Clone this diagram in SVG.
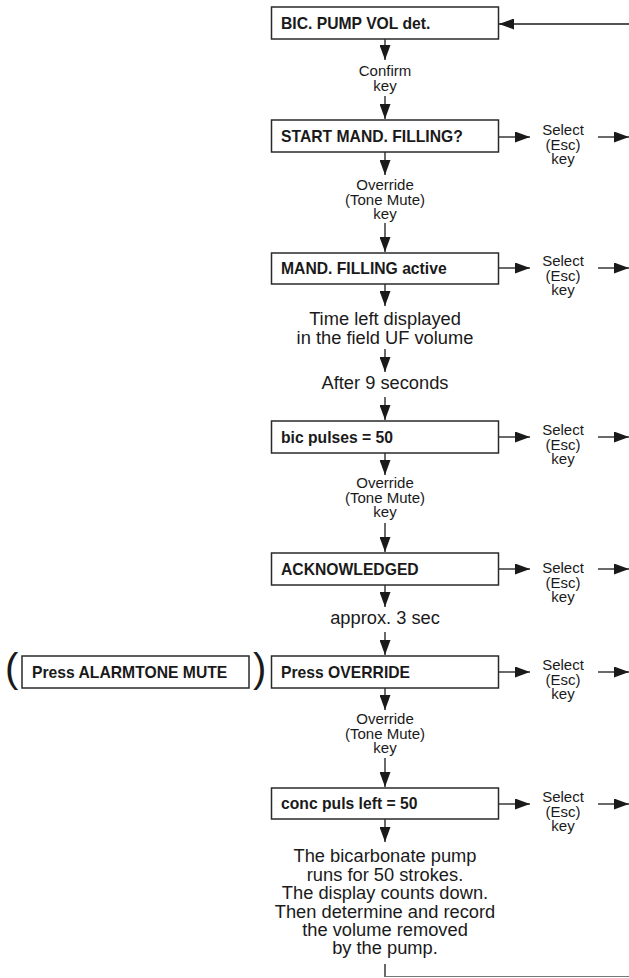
<svg xmlns="http://www.w3.org/2000/svg" width="629" height="978" viewBox="0 0 629 978">
<defs>
<marker id="ah" viewBox="0 0 15 11" refX="15" refY="5.5" markerWidth="15" markerHeight="11" markerUnits="userSpaceOnUse" orient="auto"><path d="M0,0 L15,5.5 L0,11 z" fill="#1a1a1a"/></marker>
<style>
.box{fill:#fff;stroke:#2a2a2a;stroke-width:1.5}
.bt{font-family:"Liberation Sans",Arial,sans-serif;font-weight:bold;font-size:15.7px;fill:#1a1a1a}
.lb{font-family:"Liberation Sans",Arial,sans-serif;font-size:15px;fill:#1a1a1a;text-anchor:middle}
.bg{font-family:"Liberation Sans",Arial,sans-serif;font-size:18.3px;fill:#1a1a1a;text-anchor:middle}
.par{font-family:"Liberation Sans",Arial,sans-serif;font-size:40px;fill:#1a1a1a}
.c line{stroke:#1a1a1a;stroke-width:1.3;fill:none}
.c line.a{marker-end:url(#ah)}
</style>
</defs>
<rect width="629" height="978" fill="#fff"/>
<g class="c" id="connectors">
<line class="a" x1="629" y1="24" x2="499" y2="24"/>
<line class="a" x1="385" y1="39" x2="385" y2="60"/>
<line class="a" x1="385" y1="96" x2="385" y2="119"/>
<line class="a" x1="385" y1="152" x2="385" y2="175"/>
<line class="a" x1="385" y1="223" x2="385" y2="252"/>
<line class="a" x1="385" y1="284" x2="385" y2="306"/>
<line class="a" x1="385" y1="349" x2="385" y2="372"/>
<line class="a" x1="385" y1="397" x2="385" y2="420"/>
<line class="a" x1="385" y1="453" x2="385" y2="475"/>
<line class="a" x1="385" y1="523" x2="385" y2="552"/>
<line class="a" x1="385" y1="585" x2="385" y2="607"/>
<line class="a" x1="385" y1="632" x2="385" y2="655"/>
<line class="a" x1="385" y1="688" x2="385" y2="710"/>
<line class="a" x1="385" y1="758" x2="385" y2="787"/>
<line class="a" x1="385" y1="819" x2="385" y2="842"/>
<line x1="385" y1="964" x2="385" y2="977"/>
<line x1="385" y1="976.5" x2="629" y2="976.5" style="stroke:#777;stroke-width:1"/>
<line class="a" x1="498" y1="137" x2="530" y2="137"/>
<line class="a" x1="598" y1="137" x2="629" y2="137"/>
<line class="a" x1="498" y1="268" x2="530" y2="268"/>
<line class="a" x1="598" y1="268" x2="629" y2="268"/>
<line class="a" x1="498" y1="437" x2="530" y2="437"/>
<line class="a" x1="598" y1="437" x2="629" y2="437"/>
<line class="a" x1="498" y1="569" x2="530" y2="569"/>
<line class="a" x1="598" y1="569" x2="629" y2="569"/>
<line class="a" x1="498" y1="672" x2="530" y2="672"/>
<line class="a" x1="598" y1="672" x2="629" y2="672"/>
<line class="a" x1="498" y1="804" x2="530" y2="804"/>
<line class="a" x1="598" y1="804" x2="629" y2="804"/>
</g>
<g id="n1"><rect class="box" x="271.5" y="7" width="227" height="32"/><text class="bt" x="281" y="28.5">BIC. PUMP VOL det.</text></g>
<g id="l1"><text class="lb" x="385" y="76">Confirm</text><text class="lb" x="385" y="91">key</text></g>
<g id="n2"><rect class="box" x="271.5" y="120" width="227" height="32"/><text class="bt" x="281" y="141.5">START MAND. FILLING?</text></g>
<g id="s2"><text class="lb" x="563" y="135">Select</text><text class="lb" x="563" y="150">(Esc)</text><text class="lb" x="563" y="164">key</text></g>
<g id="l2"><text class="lb" x="385" y="190">Override</text><text class="lb" x="385" y="205">(Tone Mute)</text><text class="lb" x="385" y="219">key</text></g>
<g id="n3"><rect class="box" x="271.5" y="253" width="227" height="31"/><text class="bt" x="281" y="274">MAND. FILLING active</text></g>
<g id="s3"><text class="lb" x="563" y="266">Select</text><text class="lb" x="563" y="281">(Esc)</text><text class="lb" x="563" y="295">key</text></g>
<g id="l3"><text class="bg" x="385" y="325">Time left displayed</text><text class="bg" x="385" y="344">in the field UF volume</text></g>
<g id="l4"><text class="bg" x="385" y="389">After 9 seconds</text></g>
<g id="n4"><rect class="box" x="271.5" y="421" width="227" height="32"/><text class="bt" x="281" y="442.5">bic pulses = 50</text></g>
<g id="s4"><text class="lb" x="563" y="435">Select</text><text class="lb" x="563" y="450">(Esc)</text><text class="lb" x="563" y="464">key</text></g>
<g id="l5"><text class="lb" x="385" y="488">Override</text><text class="lb" x="385" y="503">(Tone Mute)</text><text class="lb" x="385" y="517">key</text></g>
<g id="n5"><rect class="box" x="271.5" y="553" width="227" height="32"/><text class="bt" x="281" y="574.5">ACKNOWLEDGED</text></g>
<g id="s5"><text class="lb" x="563" y="573">Select</text><text class="lb" x="563" y="588">(Esc)</text><text class="lb" x="563" y="602">key</text></g>
<g id="l6"><text class="bg" x="385" y="624">approx. 3 sec</text></g>
<g id="n6"><rect class="box" x="271.5" y="656" width="227" height="32"/><text class="bt" x="281" y="677.5">Press OVERRIDE</text></g>
<g id="n6b"><text class="par" x="5" y="682">(</text><rect class="box" x="22" y="656" width="227" height="32"/><text class="bt" x="32" y="677.5">Press ALARMTONE MUTE</text><text class="par" x="253" y="682">)</text></g>
<g id="s6"><text class="lb" x="563" y="670">Select</text><text class="lb" x="563" y="685">(Esc)</text><text class="lb" x="563" y="699">key</text></g>
<g id="l7"><text class="lb" x="385" y="724">Override</text><text class="lb" x="385" y="739">(Tone Mute)</text><text class="lb" x="385" y="753">key</text></g>
<g id="n7"><rect class="box" x="271.5" y="788" width="227" height="31"/><text class="bt" x="281" y="809">conc puls left = 50</text></g>
<g id="s7"><text class="lb" x="563" y="802">Select</text><text class="lb" x="563" y="817">(Esc)</text><text class="lb" x="563" y="831">key</text></g>
<g id="l8"><text class="bg" x="385" y="862">The bicarbonate pump</text><text class="bg" x="385" y="880.5">runs for 50 strokes.</text><text class="bg" x="385" y="899">The display counts down.</text><text class="bg" x="385" y="917.5">Then determine and record</text><text class="bg" x="385" y="936">the volume removed</text><text class="bg" x="385" y="954">by the pump.</text></g>
</svg>
